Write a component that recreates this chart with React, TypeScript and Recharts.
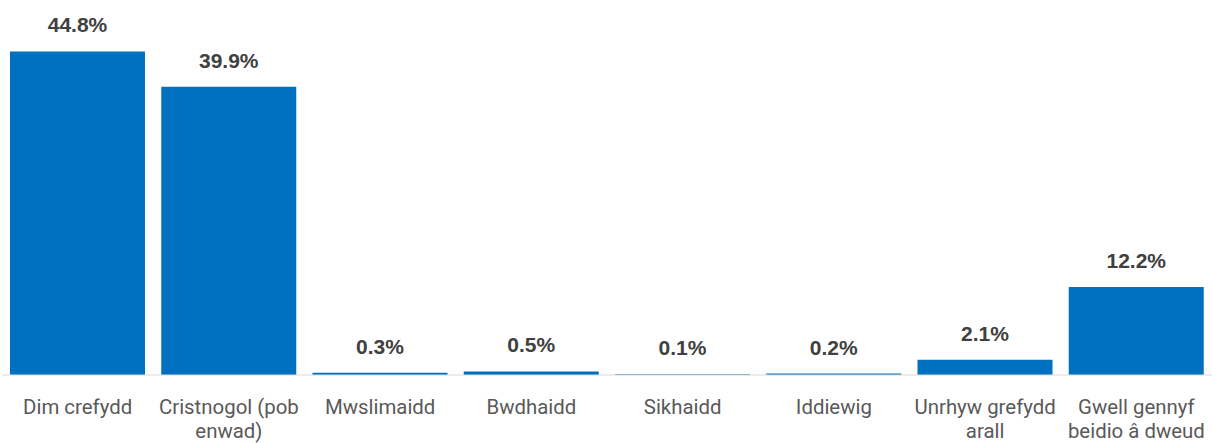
import { BarChart, Bar, XAxis, YAxis, LabelList } from "recharts";

const categories = [
  "Dim crefydd",
  "Cristnogol (pob enwad)",
  "Mwslimaidd",
  "Bwdhaidd",
  "Sikhaidd",
  "Iddiewig",
  "Unrhyw grefydd arall",
  "Gwell gennyf beidio â dweud",
];
const shares = [44.8, 39.9, 0.3, 0.5, 0.1, 0.2, 2.1, 12.2];
const tickLines = [
  ["Dim crefydd"],
  ["Cristnogol (pob", "enwad)"],
  ["Mwslimaidd"],
  ["Bwdhaidd"],
  ["Sikhaidd"],
  ["Iddiewig"],
  ["Unrhyw grefydd", "arall"],
  ["Gwell gennyf", "beidio â dweud"],
];

const data = categories.map((name, i) => ({ name, value: shares[i] }));

function CategoryTick(props: any) {
  const { x, y, index } = props;
  const lines = tickLines[index] || [props.payload.value];
  return (
    <g>
      {lines.map((l, i) => (
        <text
          key={i}
          x={x}
          y={y + 31 + i * 24}
          textAnchor="middle"
          fill="#595959"
          fontSize={20.4}
          fontFamily="Roboto, sans-serif"
        >
          {l}
        </text>
      ))}
    </g>
  );
}

export default function App() {
  return (
    <div style={{ position: "absolute", left: 0, top: 0, width: 1212, height: 443, background: "#fff" }}>
      <BarChart
        width={1212}
        height={443}
        data={data}
        margin={{ top: 50, right: 0, left: 2, bottom: 0 }}
        barCategoryGap={8}
      >
        <XAxis
          dataKey="name"
          height={68}
          interval={0}
          tickLine={false}
          axisLine={{ stroke: "#d9d9d9" }}
          tick={<CategoryTick />}
        />
        <YAxis hide domain={[0, 45]} />
        <Bar dataKey="value" fill="#0070C0" isAnimationActive={false}>
          <LabelList
            dataKey="value"
            position="top"
            offset={19}
            formatter={(v: number) => `${v.toFixed(1)}%`}
            style={{
              fill: "#404040",
              fontSize: 21,
              fontWeight: 700,
              fontFamily: "'Liberation Sans', Arial, sans-serif",
            }}
          />
        </Bar>
      </BarChart>
    </div>
  );
}
